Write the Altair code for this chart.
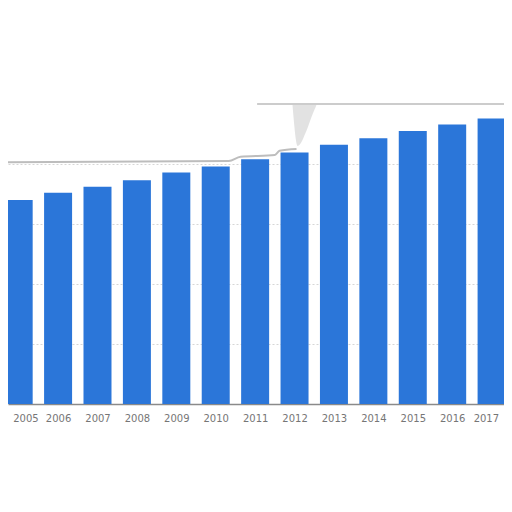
import altair as alt
import pandas as pd

years = [2005, 2006, 2007, 2008, 2009, 2010, 2011, 2012, 2013, 2014, 2015, 2016, 2017]
values = [3.40, 3.52, 3.62, 3.73, 3.86, 3.96, 4.08, 4.19, 4.32, 4.43, 4.55, 4.66, 4.76]
grid_values = [1, 2, 3, 4]

# torn paper edge (decorative), in data units
edge_lo_year = [2004.7, 2010.33, 2010.63, 2011.5, 2011.62, 2012.05]
edge_lo_val = [4.03, 4.05, 4.12, 4.15, 4.22, 4.25]
edge_hi_year = [2011.05, 2017.4]
edge_hi_val = [5.0, 5.0]
shadow_year = [2011.95, 2012.08, 2012.3, 2012.47, 2012.55]
shadow_lo = [4.97, 4.3, 4.55, 4.85, 4.97]
shadow_hi = [4.99, 4.99, 4.99, 4.99, 4.99]

bars = pd.DataFrame({"year": years, "value": values})
lo = pd.DataFrame({"year": edge_lo_year, "value": edge_lo_val})
hi = pd.DataFrame({"year": edge_hi_year, "value": edge_hi_val})
sh = pd.DataFrame({"year": shadow_year, "lo": shadow_lo, "hi": shadow_hi})

xscale = alt.Scale(domain=[2004.856, 2017.188], nice=False, zero=False)
yscale = alt.Scale(domain=[0, 6.6], nice=False, zero=True)

first, last = years[0], years[-1]
xaxis = alt.Axis(
    values=years, format="d", title=None, ticks=False, grid=False,
    labelFont="DejaVu Sans", labelFontSize=10, labelColor="#767676",
    labelPadding=9, domainColor="#8a8a8a", domainWidth=1.5,
    labelFlush=False, labelOverlap=False, labelBound=False,
    labelAlign={"condition": [{"test": f"datum.value == {first}", "value": "left"},
                              {"test": f"datum.value == {last}", "value": "right"}],
                "value": "center"},
    labelOffset={"expr": f"datum.value == {first} ? -6 : (datum.value == {last} ? 7 : 0)"},
)
yaxis = alt.Axis(values=grid_values, title=None, labels=False, ticks=False, domain=False,
                 grid=True, gridDash=[2, 2], gridColor="#d6d6d6", gridWidth=1)

bar_layer = alt.Chart(bars).mark_bar(size=28, color="#2b76d9").encode(
    x=alt.X("year:Q", scale=xscale, axis=xaxis),
    y=alt.Y("value:Q", scale=yscale, axis=yaxis),
)

shadow_layer = alt.Chart(sh).mark_area(color="#a0a0a0", opacity=0.3, interpolate="monotone").encode(
    x=alt.X("year:Q", scale=xscale),
    y=alt.Y("lo:Q", scale=yscale),
    y2="hi:Q",
)

lo_layer = alt.Chart(lo).mark_line(color="#bdbdbd", strokeWidth=2, interpolate="monotone").encode(
    x=alt.X("year:Q", scale=xscale),
    y=alt.Y("value:Q", scale=yscale),
)
hi_layer = alt.Chart(hi).mark_line(color="#cccccc", strokeWidth=2).encode(
    x=alt.X("year:Q", scale=xscale),
    y=alt.Y("value:Q", scale=yscale),
)

chart = alt.layer(shadow_layer, lo_layer, hi_layer, bar_layer).properties(
    width=496, height=396,
    background="white",
    autosize=alt.AutoSizeParams(type="none"),
    padding={"left": 0, "top": 0, "right": 0, "bottom": 100},
).configure_view(stroke="transparent", strokeWidth=0)

chart.save("out.html", embed_options={"renderer": "svg", "actions": False})
